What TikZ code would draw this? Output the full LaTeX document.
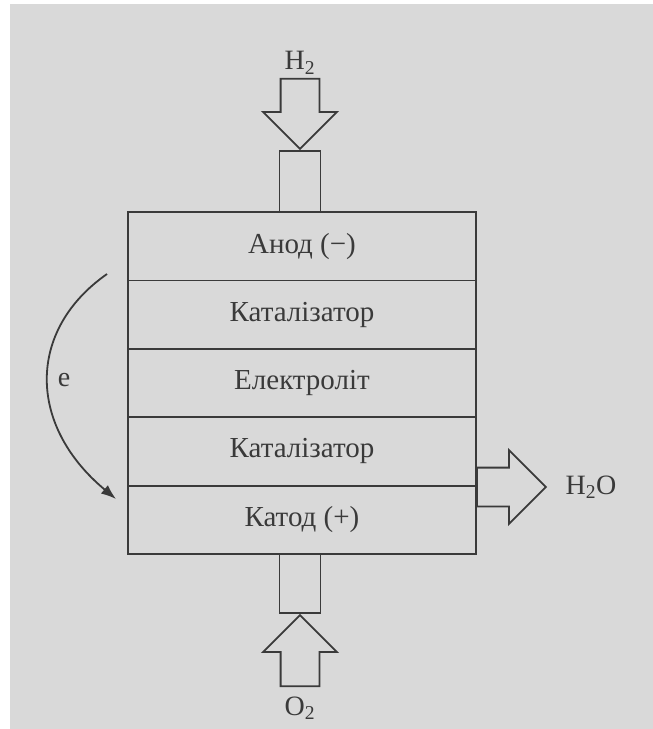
\documentclass[tikz,border=0pt]{standalone}
\usepackage{fontspec}
\setmainfont{Liberation Serif}
\usepackage{tikz}
\usetikzlibrary{shapes.arrows,arrows.meta}

\definecolor{bg}{HTML}{D9D9D9}
\definecolor{ink}{HTML}{3A3A3A}

\tikzset{
  layer/.style={draw=ink, line width=1.8pt, minimum width=348pt, minimum height=68.4pt, inner sep=0pt, text=ink, font=\fontsize{29}{32}\selectfont},
  stub/.style={draw=ink, line width=1.8pt, minimum width=41pt, inner sep=0pt},
  blockarrow/.style={single arrow, draw=ink, line width=1.8pt, inner sep=18.5pt, single arrow head extend=17.5pt, minimum height=#1},
  gas/.style={text=ink, font=\fontsize{28}{32}\selectfont}
}

\begin{document}
\begin{tikzpicture}[x=1pt,y=-1pt]
\useasboundingbox (0,0) rectangle (653,729);
\fill[bg] (10,4) rectangle (653,729);

\node[layer] (anode) at (302,246.2){Анод (−)};
\node[layer] (cat1) at (302,314.6){Каталізатор};
\node[layer] (elec) at (302,383){Електроліт};
\node[layer] (cat2) at (302,451.4){Каталізатор};
\node[layer] (cathode) at (302,519.8){Катод (+)};

\node[stub, minimum height=61pt] (h2stub) at (300,181.5){};
\node[stub, minimum height=59pt] (o2stub) at (300,583.5){};

\node[blockarrow=70pt, rotate=-90, anchor=tip] (h2arrow) at (h2stub.north){};
\node[blockarrow=71pt, rotate=90, anchor=tip] (o2arrow) at (o2stub.south){};
\coordinate (out) at (476,487);
\node[blockarrow=69pt, anchor=tail] (h2oarrow) at (out){};

\node[gas] (h2) at (300,63){H\textsubscript{2}};
\node[gas] (o2) at (300,708){O\textsubscript{2}};
\node[gas, anchor=west] (h2o) at (562,487){H\textsubscript{2}O};

\coordinate (estart) at (107,274);
\coordinate (eend) at (116,499);
\draw[ink, line width=1.8pt, -{Latex[length=15pt,width=11pt]}] (estart) .. controls (27,330) and (27,425) .. (eend);
\node[gas] (e) at (64,380){e};
\end{tikzpicture}
\end{document}
